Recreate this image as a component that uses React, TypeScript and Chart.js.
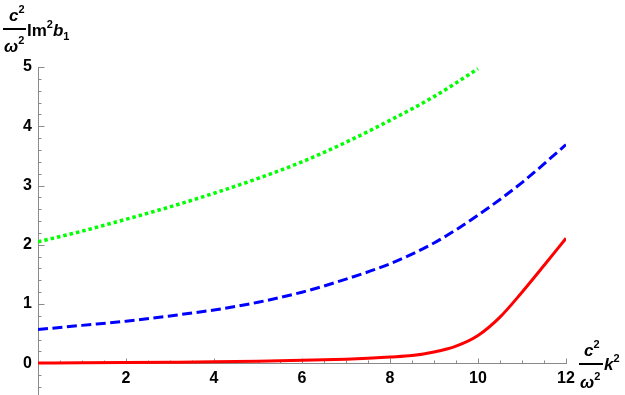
import React, { useEffect, useRef } from 'react';
import { Chart, registerables } from 'chart.js';

Chart.register(...registerables);

// ---- data ----
const xRed = [0, 1, 2, 3, 4, 5, 6, 7, 7.5, 8, 8.5, 9, 9.5, 10, 10.5, 11, 11.5, 12];
const yRed = [0.005, 0.008, 0.012, 0.018, 0.025, 0.035, 0.05, 0.07, 0.085, 0.105, 0.13, 0.19, 0.29, 0.47, 0.78, 1.2, 1.65, 2.11];

const xBlue = [0, 1, 2, 3, 4, 5, 6, 7, 8, 9, 10, 11, 12];
const yBlue = [0.57, 0.64, 0.71, 0.8, 0.9, 1.03, 1.2, 1.42, 1.68, 2.03, 2.5, 3.05, 3.69];

const xGreen = [0, 1, 2, 3, 4, 5, 6, 7, 8, 9, 10];
const yGreen = [2.05, 2.23, 2.43, 2.64, 2.87, 3.12, 3.4, 3.73, 4.1, 4.5, 4.97];

const xTickLabels = [2, 4, 6, 8, 10, 12];
const yTickLabels = [0, 1, 2, 3, 4, 5];

const X_MIN = 0;
const X_MAX = 12;
const Y_MIN = -0.535;
const Y_MAX = 5;

const AXIS_COLOR = '#8a8a8a';
const FONT = '"Liberation Sans", Arial, sans-serif';

function pts(xs: number[], ys: number[]) {
  return xs.map((x, i) => ({ x, y: ys[i] }));
}

type Run = { t: string; italic?: boolean; size?: number; dy?: number };

function drawRuns(ctx: CanvasRenderingContext2D, x: number, y: number, runs: Run[]) {
  let cx = x;
  for (const r of runs) {
    const size = r.size ?? 17;
    ctx.font = `${r.italic ? 'italic ' : ''}bold ${size}px ${FONT}`;
    ctx.fillText(r.t, cx, y + (r.dy ?? 0));
    cx += ctx.measureText(r.t).width;
  }
  return cx;
}

const mmaAxes = {
  id: 'mmaAxes',
  beforeDatasetsDraw(chart: any) {
    const { ctx } = chart;
    const xs = chart.scales.x;
    const ys = chart.scales.y;
    const y0 = ys.getPixelForValue(0);
    const x0 = xs.getPixelForValue(0);
    ctx.save();
    ctx.strokeStyle = AXIS_COLOR;
    ctx.lineWidth = 1;
    ctx.beginPath();
    for (let k = 1; k <= 24; k++) {
      const v = k * 0.5;
      const major = k % 4 === 0;
      const len = major ? 5 : 3;
      const px = Math.round(xs.getPixelForValue(v)) + 0.5;
      ctx.moveTo(px, Math.round(y0) + 0.5);
      ctx.lineTo(px, Math.round(y0) + 0.5 - len);
    }
    for (let k = -2; k <= 25; k++) {
      const v = k * 0.2;
      const major = k % 5 === 0;
      const len = major ? 6 : 3;
      const py = Math.round(ys.getPixelForValue(v)) + 0.5;
      ctx.moveTo(Math.round(x0) + 0.5, py);
      ctx.lineTo(Math.round(x0) + 0.5 + len, py);
    }
    ctx.stroke();
    ctx.restore();
  },
  afterDraw(chart: any) {
    const { ctx } = chart;
    ctx.save();
    ctx.fillStyle = '#000';
    ctx.strokeStyle = '#000';
    ctx.textBaseline = 'alphabetic';
    ctx.textAlign = 'left';

    // y-axis title: c^2/ω^2 Im^2 b_1
    drawRuns(ctx, 9, 21, [{ t: 'c', italic: true }, { t: '2', size: 11, dy: -8 }]);
    ctx.lineWidth = 2;
    ctx.beginPath();
    ctx.moveTo(3, 29);
    ctx.lineTo(26, 29);
    ctx.stroke();
    drawRuns(ctx, 4, 52, [{ t: 'ω', italic: true }, { t: '2', size: 11, dy: -8 }]);
    drawRuns(ctx, 27, 36, [
      { t: 'Im' },
      { t: '2', size: 11, dy: -8 },
      { t: 'b', italic: true },
      { t: '1', size: 11, dy: 4 },
    ]);

    // x-axis title: c^2/ω^2 k^2
    drawRuns(ctx, 584, 356, [{ t: 'c', italic: true }, { t: '2', size: 11, dy: -8 }]);
    ctx.beginPath();
    ctx.moveTo(579, 364);
    ctx.lineTo(603, 364);
    ctx.stroke();
    drawRuns(ctx, 580, 388, [{ t: 'ω', italic: true }, { t: '2', size: 11, dy: -8 }]);
    drawRuns(ctx, 604, 370, [{ t: 'k', italic: true }, { t: '2', size: 11, dy: -8 }]);
    ctx.restore();
  },
};

export default function App() {
  const ref = useRef<HTMLCanvasElement | null>(null);

  useEffect(() => {
    if (!ref.current) return;
    const chart = new Chart(ref.current, {
      type: 'line',
      data: {
        datasets: [
          {
            label: 'green',
            data: pts(xGreen, yGreen),
            borderColor: '#00ff00',
            borderWidth: 3.5,
            borderDash: [3.5, 3],
            pointRadius: 0,
            cubicInterpolationMode: 'monotone',
            fill: false,
          },
          {
            label: 'blue',
            data: pts(xBlue, yBlue),
            borderColor: '#0000ff',
            borderWidth: 3,
            borderDash: [10, 4.5],
            pointRadius: 0,
            cubicInterpolationMode: 'monotone',
            fill: false,
          },
          {
            label: 'red',
            data: pts(xRed, yRed),
            borderColor: '#ff0000',
            borderWidth: 3,
            pointRadius: 0,
            cubicInterpolationMode: 'monotone',
            fill: false,
          },
        ],
      },
      options: {
        animation: false,
        responsive: false,
        devicePixelRatio: 1,
        layout: { padding: { left: 0, top: 67, right: 59, bottom: 0 } },
        plugins: { legend: { display: false }, tooltip: { enabled: false } },
        scales: {
          x: {
            type: 'linear',
            min: X_MIN,
            max: X_MAX,
            position: { y: 0 } as any,
            afterBuildTicks: (s: any) => {
              s.ticks = xTickLabels.map((v) => ({ value: v }));
            },
            afterFit: (s: any) => {
              s.height = 0;
              s.paddingTop = 0;
              s.paddingBottom = 0;
              s.paddingLeft = 0;
              s.paddingRight = 0;
            },
            grid: { display: false, drawTicks: false },
            border: { display: true, color: AXIS_COLOR, width: 1 },
            ticks: {
              padding: 6,
              color: '#000',
              font: { family: FONT, size: 16, weight: 'bold' },
              maxRotation: 0,
              autoSkip: false,
              callback: (v: any) => String(v),
            },
          },
          y: {
            type: 'linear',
            min: Y_MIN,
            max: Y_MAX,
            position: 'left',
            afterBuildTicks: (s: any) => {
              s.ticks = yTickLabels.map((v) => ({ value: v }));
            },
            afterFit: (s: any) => {
              s.width = 38;
              s.paddingTop = 0;
              s.paddingBottom = 0;
              s.paddingLeft = 0;
              s.paddingRight = 0;
            },
            grid: { display: false, drawTicks: false },
            border: { display: true, color: AXIS_COLOR, width: 1 },
            ticks: {
              padding: 6,
              color: '#000',
              font: { family: FONT, size: 16, weight: 'bold' },
              autoSkip: false,
              callback: (v: any) => String(v),
            },
          },
        },
      },
      plugins: [mmaAxes],
    } as any);
    return () => chart.destroy();
  }, []);

  return (
    <div style={{ position: 'fixed', left: 0, top: 0, width: 625, height: 395, background: '#fff' }}>
      <canvas ref={ref} width={625} height={395} style={{ display: 'block' }} />
    </div>
  );
}
